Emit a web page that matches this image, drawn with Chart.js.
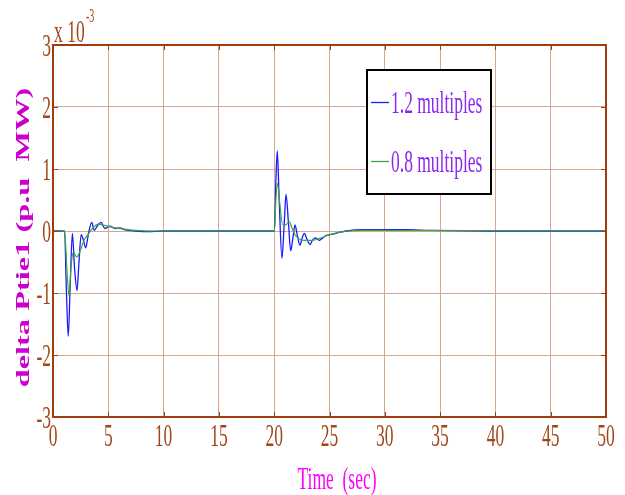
<!DOCTYPE html>
<html>
<head>
<meta charset="utf-8">
<script src="https://cdn.jsdelivr.net/npm/chart.js@4.4.1/dist/chart.umd.min.js"></script>
<style>
html,body{margin:0;padding:0;background:#fff;}
#wrap{width:625px;height:495px;position:relative;}
canvas{display:block;}
</style>
</head>
<body>
<div id="wrap"><canvas id="c" width="625" height="495"></canvas></div>
<script>
// ---- data (values in units of 10^-3 p.u. MW) ----
const tBlue = [0, 1.05, 1.2, 1.38, 1.55, 1.75, 1.95, 2.17, 2.35, 2.55, 2.75, 2.96, 3.2, 3.5, 3.73, 4.0, 4.34, 4.7, 5.15, 5.6, 6.05, 6.5, 7.5, 8.5, 10, 15, 19.97,
  20.02, 20.15, 20.28, 20.45, 20.7, 20.9, 21.07, 21.3, 21.49, 21.7, 21.88, 22.1, 22.33, 22.52, 22.72, 23.0, 23.24, 23.45, 23.69, 24.08, 24.6, 25.3, 25.95, 26.5, 28, 32, 34, 40, 50];
const vBlue = [0, 0, -0.9, -1.70, -0.9, -0.04, -0.6, -0.96, -0.5, -0.06, -0.15, -0.27, -0.05, 0.14, 0.01, 0.08, 0.14, 0.04, 0.08, 0.04, 0.05, 0.02, 0.0, -0.01, 0, 0, 0,
  0, 0.8, 1.29, 0.5, -0.44, 0.1, 0.59, 0.1, -0.32, -0.1, 0.10, -0.08, -0.23, -0.12, -0.04, -0.15, -0.22, -0.15, -0.11, -0.15, -0.08, -0.05, -0.02, 0, 0.02, 0.02, 0.01, 0, 0];
const tGreen = [0, 1.05, 1.25, 1.45, 1.62, 1.84, 2.14, 2.5, 2.8, 3.19, 3.6, 4.1, 4.7, 5.6, 6.45, 7.5, 9, 19.97,
  20.02, 20.15, 20.3, 20.5, 20.77, 21.05, 21.37, 21.6, 21.88, 22.2, 22.63, 23.4, 24.1, 25.0, 25.9, 26.5, 28, 50];
const vGreen = [0, 0, -0.6, -1.05, -0.6, -0.34, -0.42, -0.3, -0.15, -0.05, 0.05, 0.11, 0.09, 0.05, 0.03, 0.01, 0, 0,
  0, 0.5, 0.77, 0.45, 0.1, 0.1, 0.15, 0.05, -0.06, -0.12, -0.15, -0.15, -0.12, -0.06, -0.02, 0, 0.01, 0];
const seriesNames = ['1.2 multiples', '0.8 multiples'];
const xTickVals = [0, 5, 10, 15, 20, 25, 30, 35, 40, 45, 50];
const xTickLabels = ['0', '5', '10', '15', '20', '25', '30', '35', '40', '45', '50'];
const yTickVals = [-3, -2, -1, 0, 1, 2, 3];
const yTickLabels = ['-3', '-2', '-1', '0', '1', '2', '3'];
const xTitle = 'Time  (sec)';
const yTitle = 'delta Ptie1 (p.u  MW)';
const expBase = 'x 10';
const expPow = '-3';

// ---- styles ----
const AXIS = '#a33c0c';
const TICKTXT = '#a0461a';
const GRID = '#d6a892';
const BLUE = '#1a1aff';
const GREEN = '#3aa83a';
const SERIF = '"Liberation Serif", "Times New Roman", serif';
const SY = 1.83;

function sText(ctx, str, x, y, font, color, align, sx, sy, rot) {
  ctx.save();
  ctx.font = font;
  ctx.fillStyle = color;
  ctx.textAlign = align;
  ctx.textBaseline = 'alphabetic';
  ctx.translate(x, y);
  if (rot) ctx.rotate(rot);
  ctx.scale(sx, sy);
  ctx.fillText(str, 0, 0);
  ctx.restore();
}

const decor = {
  id: 'decor',
  afterDraw(chart) {
    const ctx = chart.ctx;
    const a = chart.chartArea;
    const xs = chart.scales.x, ys = chart.scales.y;
    // inward tick marks
    ctx.save();
    ctx.strokeStyle = AXIS;
    ctx.lineWidth = 1;
    ctx.beginPath();
    xTickVals.forEach(v => {
      const px = Math.round(xs.getPixelForValue(v)) + 0.5;
      ctx.moveTo(px, a.bottom); ctx.lineTo(px, a.bottom - 5);
      ctx.moveTo(px, a.top); ctx.lineTo(px, a.top + 5);
    });
    yTickVals.forEach(v => {
      const py = Math.round(ys.getPixelForValue(v)) + 0.5;
      ctx.moveTo(a.left, py); ctx.lineTo(a.left + 5, py);
      ctx.moveTo(a.right, py); ctx.lineTo(a.right - 5, py);
    });
    ctx.stroke();
    // box
    ctx.lineWidth = 2;
    ctx.strokeRect(a.left, a.top, a.right - a.left, a.bottom - a.top);
    ctx.restore();

    // tick labels
    const f = '17.5px ' + SERIF;
    xTickVals.forEach((v, i) => {
      sText(ctx, xTickLabels[i], xs.getPixelForValue(v), 446, f, TICKTXT, 'center', 1, SY);
    });
    yTickVals.forEach((v, i) => {
      sText(ctx, yTickLabels[i], 51, ys.getPixelForValue(v) + 11, f, TICKTXT, 'right', 1, SY);
    });
    // exponent
    sText(ctx, expBase, 54, 42, f, TICKTXT, 'left', 1, SY);
    sText(ctx, expPow, 86, 22, '10px ' + SERIF, TICKTXT, 'left', 1, SY);
    // axis titles
    sText(ctx, xTitle, 337, 489, f, '#ff00ff', 'center', 1, SY);
    sText(ctx, yTitle, 29, 237.5, 'bold 18px ' + SERIF, '#cc00cc', 'center', 1.8, 1, -Math.PI / 2);

    // legend
    ctx.save();
    ctx.fillStyle = '#fff';
    ctx.fillRect(367, 70, 124, 124);
    ctx.strokeStyle = '#000';
    ctx.lineWidth = 2;
    ctx.strokeRect(367, 70, 124, 124);
    const cols = [BLUE, GREEN];
    const ly = [102, 161];
    cols.forEach((c, i) => {
      ctx.strokeStyle = c;
      ctx.lineWidth = 1.3;
      ctx.beginPath();
      ctx.moveTo(371, ly[i] + 0.5); ctx.lineTo(389, ly[i] + 0.5);
      ctx.stroke();
      sText(ctx, seriesNames[i], 391, ly[i] + 11, f, '#8c28f0', 'left', 1, SY);
    });
    ctx.restore();
  }
};

const mk = (ts, vs) => ts.map((t, i) => ({x: t, y: vs[i]}));

new Chart(document.getElementById('c'), {
  type: 'line',
  data: {
    datasets: [
      {label: seriesNames[0], data: mk(tBlue, vBlue), borderColor: BLUE, borderWidth: 1.3, pointRadius: 0, cubicInterpolationMode: 'monotone', fill: false, order: 2},
      {label: seriesNames[1], data: mk(tGreen, vGreen), borderColor: GREEN, borderWidth: 1.2, pointRadius: 0, cubicInterpolationMode: 'monotone', fill: false, order: 1}
    ]
  },
  options: {
    responsive: false,
    animation: false,
    devicePixelRatio: 1,
    layout: {padding: {left: 0, right: 19, top: 45, bottom: 0}},
    plugins: {legend: {display: false}, tooltip: {enabled: false}},
    scales: {
      x: {
        type: 'linear', min: 0, max: 50,
        afterBuildTicks: s => { s.ticks = xTickVals.map(v => ({value: v})); },
        afterFit: s => { s.height = 78; },
        ticks: {display: false},
        grid: {color: GRID, lineWidth: 1, drawTicks: false},
        border: {display: true, color: AXIS, width: 2}
      },
      y: {
        type: 'linear', min: -3, max: 3,
        afterBuildTicks: s => { s.ticks = yTickVals.map(v => ({value: v})); },
        afterFit: s => { s.width = 53; },
        ticks: {display: false},
        grid: {color: GRID, lineWidth: 1, drawTicks: false},
        border: {display: true, color: AXIS, width: 2}
      }
    }
  },
  plugins: [decor]
});
</script>
</body>
</html>
